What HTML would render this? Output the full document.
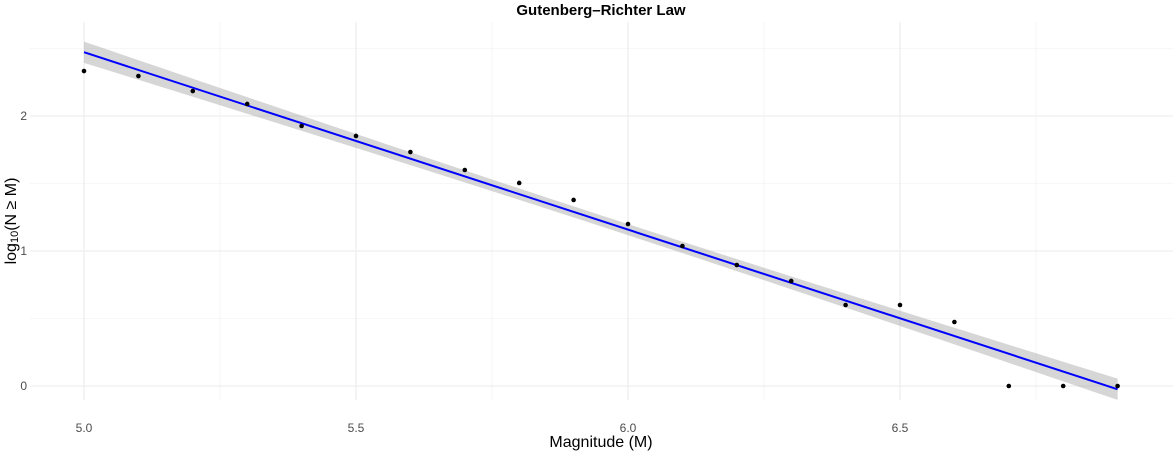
<!DOCTYPE html>
<html><head><meta charset="utf-8"><style>
body{margin:0;background:#fff;font-family:"Liberation Sans",sans-serif}
</style></head><body>
<svg id="c" width="1173" height="456" xmlns="http://www.w3.org/2000/svg">
<text x="601" y="15" text-anchor="middle" font-size="15" font-weight="bold" fill="#000">Gutenberg–Richter Law</text>
<g id="grid"></g><g id="band"></g><g id="line"></g><g id="pts"></g><g id="ticks"></g>
<text x="601" y="447" text-anchor="middle" font-size="16" fill="#000">Magnitude (M)</text>
<text transform="translate(16,221) rotate(-90)" text-anchor="middle" font-size="16" fill="#000">log<tspan font-size="11" dy="2">10</tspan><tspan dy="-2">(N ≥ M)</tspan></text>
</svg>
<script>
const mags=[5.0,5.1,5.2,5.3,5.4,5.5,5.6,5.7,5.8,5.9,6.0,6.1,6.2,6.3,6.4,6.5,6.6,6.7,6.8,6.9];
const logN=[2.333,2.296,2.185,2.089,1.926,1.852,1.733,1.6,1.504,1.378,1.2,1.037,0.896,0.778,0.6,0.6,0.474,0,0,0];
const xTicks=[5.0,5.5,6.0,6.5];
const xTickLabels=["5.0","5.5","6.0","6.5"];
const yTicks=[0,1,2];
const yTickLabels=["0","1","2"];
const NS="http://www.w3.org/2000/svg";
const X=v=>84+(v-5)*544, Y=v=>386-v*135;
function mk(p,t,a){const e=document.createElementNS(NS,t);for(const k in a)e.setAttribute(k,a[k]);document.getElementById(p).appendChild(e);return e;}
[4.75,5.25,5.75,6.25,6.75].forEach(v=>{const e=mk('grid','line',{x1:X(v),x2:X(v),y1:22,y2:400,stroke:'#f0f0f0','stroke-width':0.6});});
[0.5,1.5,2.5].forEach(v=>{const e=mk('grid','line',{x1:30,x2:1173,y1:Y(v),y2:Y(v),stroke:'#f0f0f0','stroke-width':0.6});});
xTicks.forEach((v,i)=>{const e=mk('grid','line',{x1:X(v),x2:X(v),y1:22,y2:400,stroke:'#ebebeb','stroke-width':1.1});
const t=mk('ticks','text',{x:X(v),y:432,'text-anchor':'middle','font-size':12,fill:'#4d4d4d'});t.textContent=xTickLabels[i];});
yTicks.forEach((v,i)=>{const e=mk('grid','line',{x1:30,x2:1173,y1:Y(v),y2:Y(v),stroke:'#ebebeb','stroke-width':1.1});
const t=mk('ticks','text',{x:27,y:Y(v)+4,'text-anchor':'end','font-size':12,fill:'#4d4d4d'});t.textContent=yTickLabels[i];});
const n=mags.length,mx=mags.reduce((a,b)=>a+b)/n,my=logN.reduce((a,b)=>a+b)/n;
let sxx=0,sxy=0;mags.forEach((x,i)=>{sxx+=(x-mx)**2;sxy+=(x-mx)*(logN[i]-my);});
const b=sxy/sxx,a=my-b*mx;let sse=0;mags.forEach((x,i)=>{sse+=(logN[i]-a-b*x)**2;});
const s=Math.sqrt(sse/(n-2)),tq=2.101;
const x0=mags[0],x1=mags[n-1];let up=[],lo=[];
for(let k=0;k<=40;k++){const x=x0+(x1-x0)*k/40,f=a+b*x,se=tq*s*Math.sqrt(1/n+(x-mx)**2/sxx);up.push(X(x)+','+Y(f+se));lo.unshift(X(x)+','+Y(f-se));}
const bd=mk('band','polygon',{points:up.concat(lo).join(' '),fill:'#999',opacity:0.4});

const ln=mk('line','line',{x1:X(x0),y1:Y(a+b*x0),x2:X(x1),y2:Y(a+b*x1),stroke:'#0000ff','stroke-width':2});

mags.forEach((m,i)=>{const c=mk('pts','circle',{cx:X(m),cy:Y(logN[i]),r:2.3,fill:'#000'});
});
</script>
</body></html>
